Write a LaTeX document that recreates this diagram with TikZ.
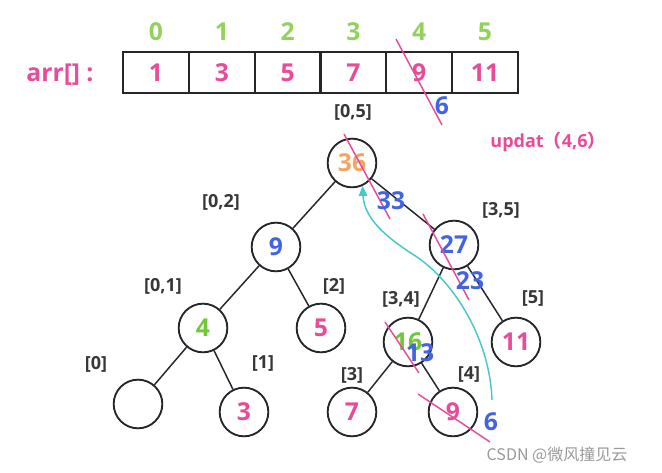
\documentclass[tikz,border=0pt]{standalone}
\usepackage{fontspec}
\setmainfont{Open Sans}
\newfontfamily\cjkfont{Noto Sans CJK SC}
\usetikzlibrary{arrows.meta,positioning}
\definecolor{lineclr}{RGB}{35,38,42}
\definecolor{pinkclr}{RGB}{232,75,152}
\definecolor{greenclr}{RGB}{146,210,90}
\definecolor{leafgreen}{RGB}{112,200,56}
\definecolor{blueclr}{RGB}{66,100,226}
\definecolor{orangeclr}{RGB}{244,164,96}
\definecolor{labelclr}{RGB}{55,55,55}
\definecolor{cyanclr}{RGB}{70,200,205}
\newcommand{\bigfnt}{\fontsize{18.5}{19}\selectfont\bfseries}
\tikzset{
  cellbox/.style={draw=lineclr, line width=1.5pt, minimum width=49.4pt, minimum height=30.5pt, inner sep=0pt, font=\bigfnt, text=pinkclr},
  idxlbl/.style={font=\bigfnt, text=greenclr},
  treenode/.style={circle, draw=lineclr, line width=1.4pt, minimum size=36.5pt, inner sep=0pt, font=\bigfnt},
  edgeln/.style={line width=1.1pt, draw=lineclr},
  rangelbl/.style={font=\fontsize{13.5}{14}\selectfont\bfseries, text=labelclr},
  strikeln/.style={draw=pinkclr, line width=1.1pt},
  newval/.style={font=\bigfnt, text=blueclr},
  updarrow/.style={-{Triangle[length=7.5pt,width=6.5pt]}, draw=cyanclr, line width=1.1pt},
}

\begin{document}
\begin{tikzpicture}[x=0.75pt, y=-0.75pt]
    \useasboundingbox (0,0) rectangle (662,473);
    % array
    \node[font=\bigfnt, text=pinkclr] (arrname) at (60,75) {arr[]~:};
    \foreach \v [count=\i from 0] in {1,3,5,7,9,11} {
      \node[cellbox] (c\i) at ({156+65.8*\i},72.5) {\v};
      \node[idxlbl] (i\i) at ({156+65.8*\i},32) {\i};
    }
    \draw[strikeln] (396,39) -- (442,125);
    \node[newval] (anew) at (442,106) {6};
    \node[font=\fontsize{13.5}{14}\selectfont\bfseries, text=pinkclr] (updtxt) at (548,142)
      {updat{\cjkfont（}4,6{\cjkfont）}};
    % tree
    \node[treenode, text=orangeclr] (n05) at (352,163) {36};
    \node[treenode, text=blueclr] (n02) at (276,247) {9};
    \node[treenode, text=blueclr] (n35) at (454,245) {27};
    \node[treenode, text=leafgreen] (n01) at (203,328) {4};
    \node[treenode, text=pinkclr] (n2) at (321,328) {5};
    \node[treenode, text=leafgreen] (n34) at (408,342) {16};
    \node[treenode, text=pinkclr] (n5) at (516,342) {11};
    \node[treenode] (n0) at (138,404) {};
    \node[treenode, text=pinkclr] (n1) at (244,412) {3};
    \node[treenode, text=pinkclr] (n3) at (352,412) {7};
    \node[treenode, text=pinkclr] (n4) at (453,412) {9};
    \foreach \a/\b in {n05/n02, n05/n35, n02/n01, n02/n2, n35/n34, n35/n5, n01/n0, n01/n1, n34/n3, n34/n4}
      \draw[edgeln] (\a) -- (\b);
    % ranges
    \node[rangelbl] (r05) at (353,112) {[0,5]};
    \node[rangelbl] (r02) at (221,202) {[0,2]};
    \node[rangelbl] (r35) at (501,210) {[3,5]};
    \node[rangelbl] (r01) at (163,286) {[0,1]};
    \node[rangelbl] (r2) at (334,286) {[2]};
    \node[rangelbl] (r34) at (401,299) {[3,4]};
    \node[rangelbl] (r5) at (533,299) {[5]};
    \node[rangelbl] (r0) at (96,364) {[0]};
    \node[rangelbl] (r1) at (263,364) {[1]};
    \node[rangelbl] (r3) at (352,375) {[3]};
    \node[rangelbl] (r4) at (469,375) {[4]};
    % updated sums
    \draw[strikeln] (344,134) -- (390,219);
    \node[newval] (v05) at (391,201) {33};
    \draw[strikeln] (423,214) -- (469,300);
    \node[newval] (v35) at (470,281) {23};
    \draw[strikeln] (385,322) -- (419,373);
    \node[newval] (v34) at (420,353) {13};
    \draw[strikeln] (418,394) -- (490,442);
    \node[newval] (v4) at (491,422) {6};
    % path back to the root
    \coordinate (upsrc) at (492,400);
    \draw[updarrow] (upsrc) .. controls (490,340) and (455,283) .. (417,257)
      .. controls (395,243) and (364,222) .. (n05.-65);
    \node[font=\cjkfont\fontsize{12}{13}\selectfont, text=black!40] (mark) at (557,455) {CSDN @微风撞见云};
  \end{tikzpicture}
\end{document}
